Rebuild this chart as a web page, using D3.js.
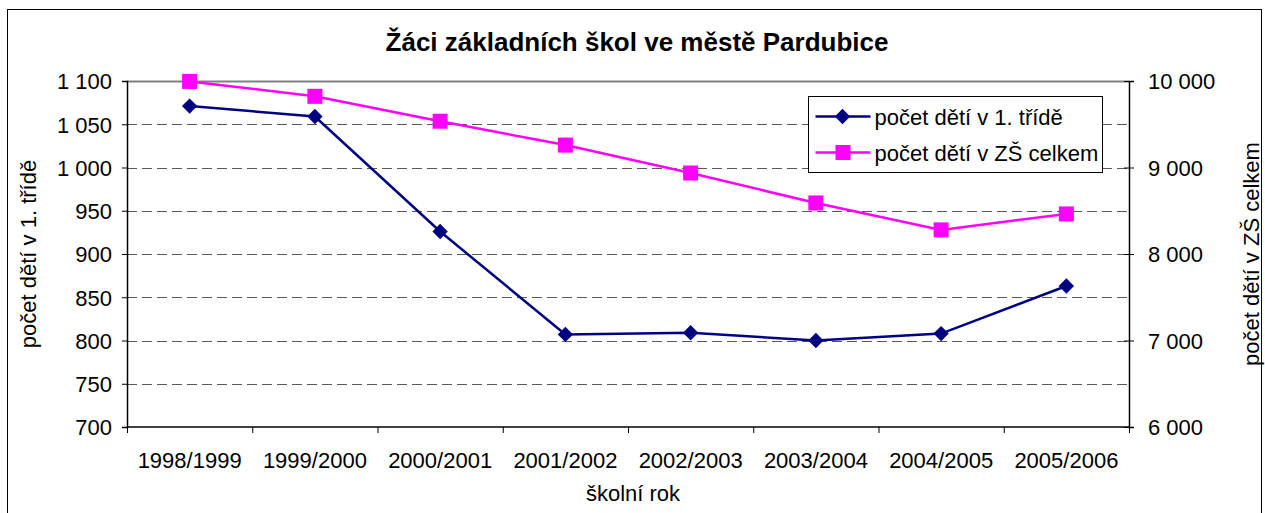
<!DOCTYPE html>
<html>
<head>
<meta charset="utf-8">
<script src="https://cdn.jsdelivr.net/npm/d3@7"></script>
<style>
  body { margin: 0; background: #fff; }
  text { font-family: Arial, "Liberation Sans", sans-serif; fill: #000; }
</style>
</head>
<body>
<svg id="chart"></svg>
<script>
// school years and values
const years = ["1998/1999", "1999/2000", "2000/2001", "2001/2002", "2002/2003", "2003/2004", "2004/2005", "2005/2006"];
const firstGrade = [1071, 1059, 926, 807, 809, 800, 808, 863];
const totalPupils = [9995, 9823, 9535, 9259, 8936, 8590, 8279, 8463];
const leftTicks = [700, 750, 800, 850, 900, 950, 1000, 1050, 1100];
const rightTicks = [6000, 7000, 8000, 9000, 10000];

const width = 1265, height = 513;
const margin = {left: 127, right: 136, top: 81, bottom: 86};
const plotW = width - margin.left - margin.right;
const plotH = height - margin.top - margin.bottom;
const fontSize = "22px";

const fmt = v => d3.format(",")(v).replace(/,/g, " ");

const svg = d3.select("#chart").attr("width", width).attr("height", height);

// outer frame
svg.append("rect")
    .attr("x", 7.5).attr("y", 9.5)
    .attr("width", 1254).attr("height", 520)
    .attr("fill", "none").attr("stroke", "#000").attr("stroke-width", 1);

const x = d3.scaleBand().domain(years).range([0, plotW]);
const yL = d3.scaleLinear().domain([700, 1100]).range([plotH, 0]);
const yR = d3.scaleLinear().domain([6000, 10000]).range([plotH, 0]);

const g = svg.append("g").attr("transform", `translate(${margin.left},${margin.top})`);

// gridlines
g.append("g")
    .selectAll("line")
    .data(leftTicks.slice(1, -1))
    .enter()
    .append("line")
    .attr("x1", 0).attr("x2", plotW)
    .attr("y1", d => Math.round(yL(d)) + 0.5)
    .attr("y2", d => Math.round(yL(d)) + 0.5)
    .attr("stroke", "#000")
    .attr("stroke-opacity", 0.65)
    .attr("stroke-dasharray", "10,5");

// top border of plot area
g.append("line")
    .attr("x1", 0).attr("x2", plotW)
    .attr("y1", 0.5).attr("y2", 0.5)
    .attr("stroke", "#808080").attr("stroke-width", 2);

// left axis
const leftAxis = g.append("g")
    .call(d3.axisLeft(yL).tickValues(leftTicks).tickSize(5).tickPadding(10).tickFormat(fmt));
leftAxis.selectAll("text").style("font-size", fontSize).attr("dy", "0.36em");

// right axis
const rightAxis = g.append("g")
    .attr("transform", `translate(${plotW},0)`)
    .call(d3.axisRight(yR).tickValues(rightTicks).tickSize(5).tickPadding(14).tickFormat(fmt));
rightAxis.selectAll("text").style("font-size", fontSize).attr("dy", "0.36em");
rightAxis.selectAll(".tick line").attr("x1", -5);

// bottom axis with ticks at category boundaries
const bottom = g.append("g").attr("transform", `translate(0,${plotH})`);
bottom.append("line")
    .attr("x1", 0).attr("x2", plotW).attr("y1", 0).attr("y2", 0)
    .attr("stroke", "#000").attr("stroke-width", 1.5);
bottom.selectAll("line.tk")
    .data(years.concat(["end"]))
    .enter()
    .append("line")
    .attr("class", "tk")
    .attr("x1", (d, i) => i * x.step() + 0.5)
    .attr("x2", (d, i) => i * x.step() + 0.5)
    .attr("y1", 0).attr("y2", 6)
    .attr("stroke", "#000");
bottom.selectAll("text")
    .data(years)
    .enter()
    .append("text")
    .attr("x", d => x(d) + x.bandwidth() / 2)
    .attr("y", 41)
    .attr("text-anchor", "middle")
    .style("font-size", fontSize)
    .text(d => d);

g.selectAll(".domain").attr("stroke", "#000").attr("stroke-width", 1.5);

// lines
const cx = d => x(d) + x.bandwidth() / 2;
const lineL = d3.line().x((d, i) => cx(years[i])).y(d => yL(d));
const lineR = d3.line().x((d, i) => cx(years[i])).y(d => yR(d));

g.append("path").datum(totalPupils)
    .attr("d", lineR).attr("fill", "none")
    .attr("stroke", "#ff00ff").attr("stroke-width", 2.5);
g.append("path").datum(firstGrade)
    .attr("d", lineL).attr("fill", "none")
    .attr("stroke", "#000080").attr("stroke-width", 2.5);

g.selectAll("rect.sq")
    .data(totalPupils)
    .enter()
    .append("rect")
    .attr("class", "sq")
    .attr("x", (d, i) => cx(years[i]) - 7.5)
    .attr("y", d => yR(d) - 7.5)
    .attr("width", 15).attr("height", 15)
    .attr("fill", "#ff00ff");

const diamond = d3.symbol().type(d3.symbolDiamond2).size(150);
g.selectAll("path.dm")
    .data(firstGrade)
    .enter()
    .append("path")
    .attr("class", "dm")
    .attr("d", diamond)
    .attr("transform", (d, i) => `translate(${cx(years[i])},${yL(d)})`)
    .attr("fill", "#000080");

// title
svg.append("text")
    .attr("x", 637).attr("y", 51)
    .attr("text-anchor", "middle")
    .style("font-size", "26px").style("font-weight", "bold")
    .text("Žáci základních škol ve městě Pardubice");

// axis titles
svg.append("text")
    .attr("x", 633).attr("y", 501)
    .attr("text-anchor", "middle")
    .style("font-size", fontSize)
    .text("školní rok");
svg.append("text")
    .attr("transform", "translate(36,254) rotate(-90)")
    .attr("text-anchor", "middle")
    .style("font-size", fontSize)
    .text("počet dětí v 1. třídě");
svg.append("text")
    .attr("transform", "translate(1259,254) rotate(-90)")
    .attr("text-anchor", "middle")
    .style("font-size", fontSize)
    .text("počet dětí v ZŠ celkem");

// legend
const legend = svg.append("g").attr("transform", "translate(808.5,96.5)");
legend.append("rect")
    .attr("width", 294).attr("height", 76)
    .attr("fill", "#fff").attr("stroke", "#000");
const legendItems = [
    {label: "počet dětí v 1. třídě", color: "#000080", shape: "diamond"},
    {label: "počet dětí v ZŠ celkem", color: "#ff00ff", shape: "square"}
];
const li = legend.selectAll("g.item")
    .data(legendItems)
    .enter()
    .append("g")
    .attr("class", "item")
    .attr("transform", (d, i) => `translate(0,${20 + i * 36})`);
li.append("line")
    .attr("x1", 7).attr("x2", 62).attr("y1", 0).attr("y2", 0)
    .attr("stroke", d => d.color).attr("stroke-width", 2.5);
li.each(function(d) {
    const sel = d3.select(this);
    if (d.shape === "diamond") {
        sel.append("path").attr("d", diamond)
            .attr("transform", "translate(34,0)").attr("fill", d.color);
    } else {
        sel.append("rect").attr("x", 27).attr("y", -7.5)
            .attr("width", 15).attr("height", 15).attr("fill", d.color);
    }
});
li.append("text")
    .attr("x", 66).attr("y", 8)
    .style("font-size", fontSize)
    .text(d => d.label);
</script>
</body>
</html>
